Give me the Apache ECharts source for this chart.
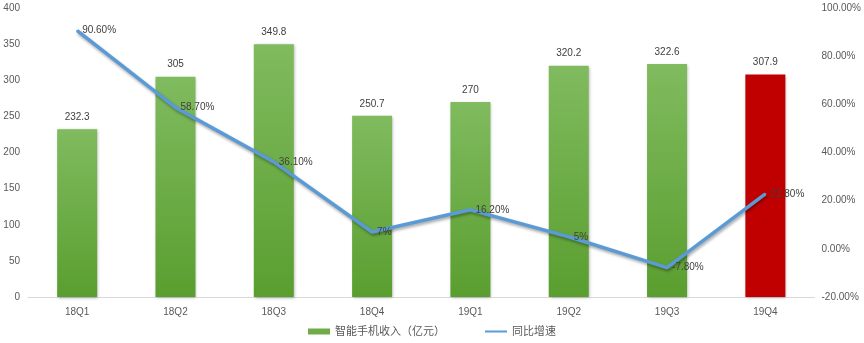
<!DOCTYPE html>
<html><head><meta charset="utf-8">
<script src="https://cdn.jsdelivr.net/npm/echarts@6/dist/echarts.min.js"></script>
<style>html,body{margin:0;padding:0;background:#fff}#c{width:864px;height:343px}</style>
</head><body><div id="c"></div>
<script>
var categories = ['18Q1','18Q2','18Q3','18Q4','19Q1','19Q2','19Q3','19Q4'];
var revenue = [232.3, 305, 349.8, 250.7, 270, 320.2, 322.6, 307.9];
var growth = [90.6, 58.7, 36.1, 7, 16.2, 5, -7.8, 22.8];
var highlightIndex = 7;

var green = new echarts.graphic.LinearGradient(0,0,0,1,[{offset:0,color:'#80bb5f'},{offset:1,color:'#5a9e2f'}]);
var chart = echarts.init(document.getElementById('c'));
var font = '"Liberation Sans", "Noto Sans CJK SC", sans-serif';
chart.setOption({
  animation:false,
  textStyle:{fontFamily:font},
  grid:{left:28,right:49,top:8,bottom:46},
  legend:{
    bottom:1,left:'center',itemGap:40,itemWidth:22,itemHeight:6,
    textStyle:{color:'#595959',fontSize:11,fontFamily:font},
    data:[{name:'智能手机收入（亿元）',icon:'rect',itemStyle:{color:'#70ad47'}},{name:'同比增速',icon:'path://M0,2 L22,2 L22,4 L0,4 Z',itemStyle:{color:'#5b9bd5',opacity:1}}]
  },
  xAxis:{type:'category',data:categories,
    axisLine:{lineStyle:{color:'#d9d9d9'}},axisTick:{show:false},
    axisLabel:{color:'#595959',fontSize:10,margin:10}},
  yAxis:[
    {type:'value',min:0,max:400,interval:50,splitLine:{show:false},
     axisLabel:{color:'#595959',fontSize:10,margin:8}},
    {type:'value',min:-20,max:100,interval:20,splitLine:{show:false},
     axisLabel:{color:'#595959',fontSize:10,margin:7,formatter:function(v){return v.toFixed(2)+'%';}}}
  ],
  series:[
    {name:'智能手机收入（亿元）',type:'bar',barWidth:40,
     data:revenue.map(function(v,i){return {value:v,itemStyle:{color:i===highlightIndex?'#c00000':green}};}),
     itemStyle:{shadowColor:'rgba(0,0,0,0.3)',shadowBlur:3,shadowOffsetX:1,shadowOffsetY:1},
     label:{show:true,position:'top',color:'#404040',fontSize:10,distance:7}},
    {name:'同比增速',type:'line',yAxisIndex:1,data:growth,
     symbol:'circle',symbolSize:2,showSymbol:true,showAllSymbol:true,smooth:false,
     lineStyle:{color:'#5b9bd5',width:3.5,shadowColor:'rgba(0,0,0,0.35)',shadowBlur:3,shadowOffsetX:1,shadowOffsetY:2},
     itemStyle:{color:'#5b9bd5'},
     label:{show:true,position:'right',color:'#404040',fontSize:10,distance:4,
       formatter:function(p){var v=p.value;return (Math.round(v)===v?v:v.toFixed(2))+'%';}}}
  ]
});
</script></body></html>
